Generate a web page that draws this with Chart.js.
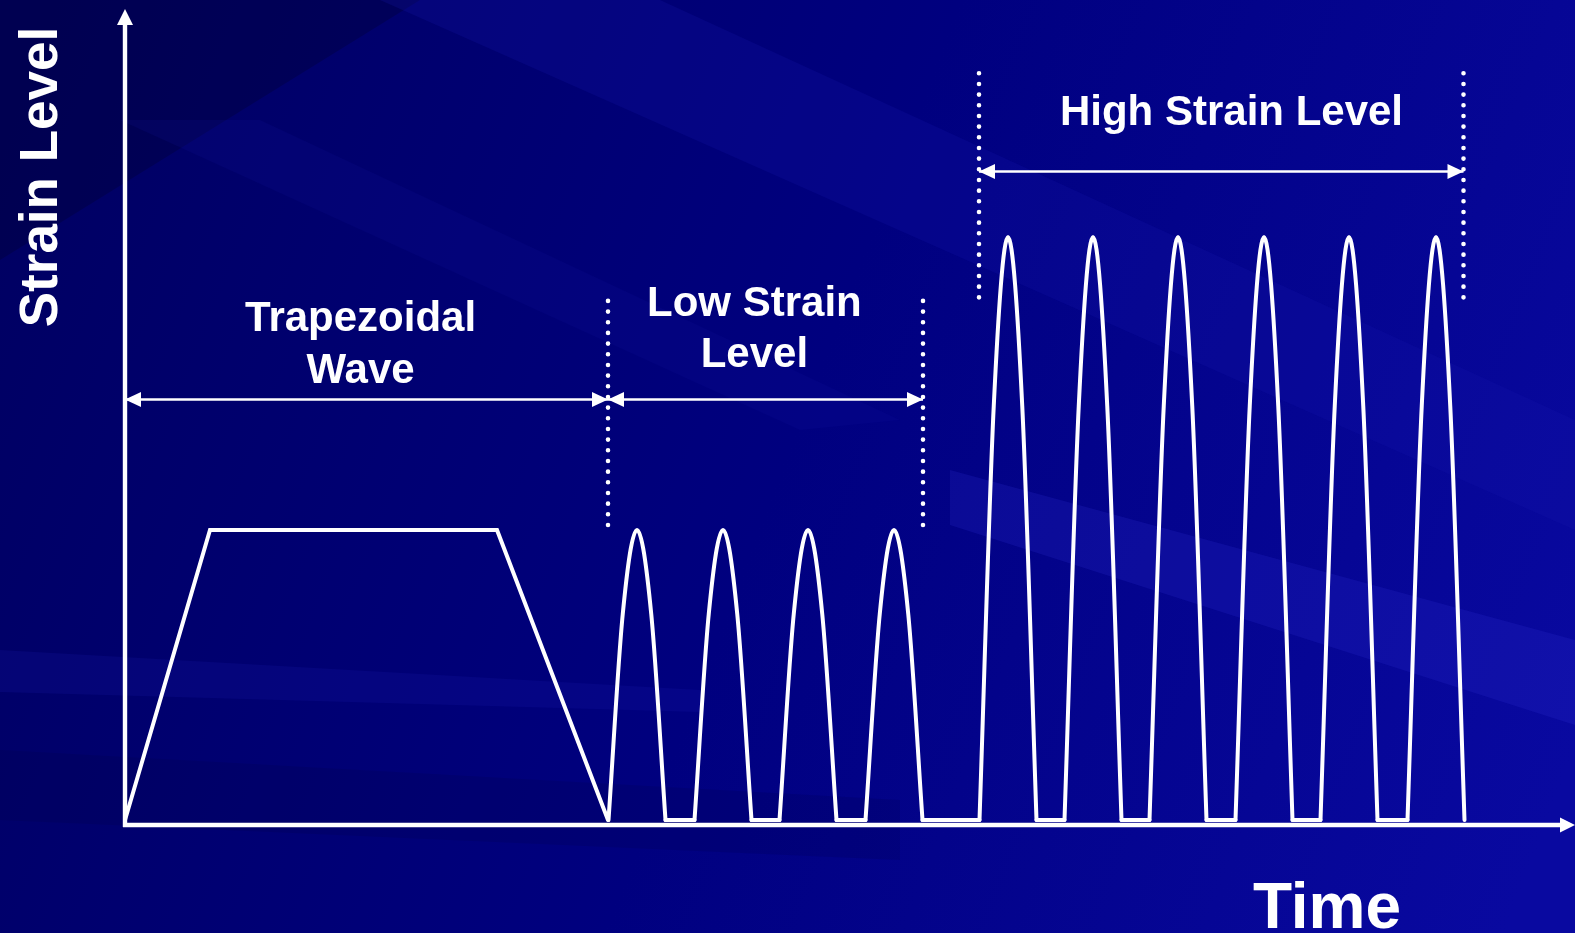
<!DOCTYPE html>
<html>
<head>
<meta charset="utf-8">
<title>Strain Level vs Time</title>
<script src="https://cdn.jsdelivr.net/npm/chart.js@4.4.1/dist/chart.umd.min.js"></script>
<style>
    html, body { margin: 0; padding: 0; background: #000078; }
    #wrap { width: 1575px; height: 933px; position: relative; }
</style>
</head>
<body>
<div id="wrap"><canvas id="waveChart"></canvas></div>
<script>
// time axis runs 0..145, strain in units of the low level
const trapTime = [0, 8.5, 37.2, 48.3];
const trapStrain = [0, 1, 1, 0];

const lowPeakTime = [51.2, 59.8, 68.3, 76.9];
const lowPeakStrain = [1, 1, 1, 1];
const highPeakTime = [88.3, 96.8, 105.3, 113.9, 122.4, 131.1];
const highPeakStrain = [2.01, 2.01, 2.01, 2.01, 2.01, 2.01];
const pulseHalfWidth = 2.85;

// one pulse: offset in half widths, level as share of peak
const pulseOffset = [-1, -0.5, 0, 0.5, 1];
const pulseLevel = [0, 0.71, 1, 0.71, 0];

// dotted guides and double arrows
const guideTime = [48.3, 79.8, 85.4, 133.85];
const guideTop = [1.79, 1.79, 2.575, 2.575];
const guideBottom = [1.017, 1.017, 1.802, 1.802];

const spanFrom = [0, 48.3, 85.4];
const spanTo = [48.3, 79.8, 133.85];
const spanLevel = [1.45, 1.45, 2.236];

const spanLabels = [
    { lines: ['Trapezoidal', 'Wave'], t: 23.56, y: [1.686, 1.507] },
    { lines: ['Low Strain', 'Level'], t: 62.94, y: [1.738, 1.562] },
    { lines: ['High Strain Level'], t: 110.65, y: [2.398] }
];

const FONT = '"Liberation Sans", Arial, Helvetica, sans-serif';
const WHITE = '#ffffff';

// build the pulse series
const pulses = [];
lowPeakTime.forEach((t, i) => pulses.push({ t: t, a: lowPeakStrain[i] }));
highPeakTime.forEach((t, i) => pulses.push({ t: t, a: highPeakStrain[i] }));

const pulsePoints = [];
pulses.forEach(p => {
    pulseOffset.forEach((o, k) => {
        pulsePoints.push({ x: p.t + o * pulseHalfWidth, y: p.a * pulseLevel[k] });
    });
    pulsePoints.push({ x: p.t + pulseHalfWidth, y: null });
});

// flat rest between pulses
const restPoints = [];
for (let i = 0; i < pulses.length - 1; i++) {
    const a = pulses[i].t + pulseHalfWidth;
    const b = pulses[i + 1].t - pulseHalfWidth;
    restPoints.push({ x: a, y: 0 }, { x: b, y: 0 }, { x: b, y: null });
}

const datasets = [];
datasets.push({
    label: 'Trapezoidal',
    data: trapTime.map((t, i) => ({ x: t, y: trapStrain[i] })),
    borderColor: WHITE,
    borderWidth: 4,
    borderJoinStyle: 'miter',
    borderCapStyle: 'round',
    pointRadius: 0,
    tension: 0
});
datasets.push({
    label: 'Pulses',
    data: pulsePoints,
    borderColor: WHITE,
    borderWidth: 4,
    borderCapStyle: 'round',
    pointRadius: 0,
    cubicInterpolationMode: 'monotone',
    spanGaps: false
});
datasets.push({
    label: 'Rest',
    data: restPoints,
    borderColor: WHITE,
    borderWidth: 4,
    borderCapStyle: 'round',
    pointRadius: 0,
    tension: 0,
    spanGaps: false
});
guideTime.forEach((t, i) => {
    datasets.push({
        label: 'guide' + i,
        data: [{ x: t, y: guideTop[i] }, { x: t, y: guideBottom[i] }],
        borderColor: WHITE,
        borderWidth: 4.6,
        borderDash: [0, 10.67],
        borderCapStyle: 'round',
        pointRadius: 0,
        tension: 0
    });
});
spanFrom.forEach((t, i) => {
    datasets.push({
        label: 'span' + i,
        data: [{ x: t, y: spanLevel[i] }, { x: spanTo[i], y: spanLevel[i] }],
        borderColor: WHITE,
        borderWidth: 2.6,
        pointRadius: 0,
        tension: 0
    });
});

function poly(ctx, pts, color) {
    ctx.beginPath();
    ctx.moveTo(pts[0][0], pts[0][1]);
    for (let i = 1; i < pts.length; i++) ctx.lineTo(pts[i][0], pts[i][1]);
    ctx.closePath();
    ctx.fillStyle = color;
    ctx.fill();
}

const backdrop = {
    id: 'backdrop',
    beforeDraw(chart) {
        const ctx = chart.ctx;
        const w = chart.width, h = chart.height;
        ctx.save();
        const g = ctx.createLinearGradient(0, 150, w, 750);
        g.addColorStop(0, '#000062');
        g.addColorStop(0.5, '#00007f');
        g.addColorStop(1, '#0909a0');
        ctx.fillStyle = g;
        ctx.fillRect(0, 0, w, h);
        poly(ctx, [[0, 0], [420, 0], [0, 260]], 'rgba(0,0,40,0.28)');
        poly(ctx, [[380, 0], [660, 0], [1575, 420], [1575, 530]], 'rgba(25,25,175,0.22)');
        poly(ctx, [[120, 120], [260, 120], [900, 420], [800, 430]], 'rgba(20,20,160,0.15)');
        poly(ctx, [[950, 470], [1575, 640], [1575, 725], [950, 525]], 'rgba(45,45,210,0.22)');
        poly(ctx, [[0, 650], [700, 690], [700, 712], [0, 692]], 'rgba(30,30,180,0.18)');
        poly(ctx, [[0, 750], [900, 800], [900, 860], [0, 820]], 'rgba(0,0,60,0.15)');
        ctx.restore();
    }
};

function arrowHead(ctx, x, y, dir, len, half) {
    // dir: 1 points right, -1 points left
    ctx.beginPath();
    ctx.moveTo(x, y);
    ctx.lineTo(x - dir * len, y - half);
    ctx.lineTo(x - dir * len, y + half);
    ctx.closePath();
    ctx.fill();
}

const decor = {
    id: 'decor',
    afterDatasetsDraw(chart) {
        const ctx = chart.ctx;
        const area = chart.chartArea;
        const xs = chart.scales.x, ys = chart.scales.y;
        ctx.save();
        ctx.fillStyle = WHITE;
        ctx.strokeStyle = WHITE;

        // axes with arrows
        ctx.lineWidth = 4.4;
        ctx.beginPath();
        ctx.moveTo(area.left, area.bottom + 2);
        ctx.lineTo(area.left, area.top + 14);
        ctx.moveTo(area.left - 2, area.bottom);
        ctx.lineTo(area.right - 14, area.bottom);
        ctx.stroke();
        ctx.beginPath();
        ctx.moveTo(area.left, area.top);
        ctx.lineTo(area.left - 8, area.top + 16);
        ctx.lineTo(area.left + 8, area.top + 16);
        ctx.closePath();
        ctx.fill();
        arrowHead(ctx, area.right, area.bottom, 1, 15, 7.5);

        // span arrow heads
        spanFrom.forEach((t, i) => {
            const y = ys.getPixelForValue(spanLevel[i]);
            arrowHead(ctx, xs.getPixelForValue(t), y, -1, 16, 7.5);
            arrowHead(ctx, xs.getPixelForValue(spanTo[i]), y, 1, 16, 7.5);
        });

        // span labels
        ctx.font = 'bold 42px ' + FONT;
        ctx.textAlign = 'center';
        ctx.textBaseline = 'alphabetic';
        spanLabels.forEach(l => {
            l.lines.forEach((s, k) => {
                ctx.fillText(s, xs.getPixelForValue(l.t), ys.getPixelForValue(l.y[k]));
            });
        });

        // axis titles
        ctx.font = 'bold 64px ' + FONT;
        ctx.fillText('Time', 1327, 928);
        ctx.save();
        ctx.translate(57, 177);
        ctx.rotate(-Math.PI / 2);
        ctx.font = 'bold 53px ' + FONT;
        ctx.fillText('Strain Level', 0, 0);
        ctx.restore();

        ctx.restore();
    }
};

new Chart(document.getElementById('waveChart'), {
    type: 'line',
    data: { datasets: datasets },
    options: {
        responsive: true,
        maintainAspectRatio: false,
        animation: false,
        events: [],
        layout: { padding: { left: 125, right: 0, top: 9, bottom: 108 } },
        scales: {
            x: { type: 'linear', min: 0, max: 145, display: false },
            y: { type: 'linear', min: -0.01724, max: 2.7966, display: false }
        },
        plugins: {
            legend: { display: false },
            tooltip: { enabled: false }
        }
    },
    plugins: [backdrop, decor]
});
</script>
</body>
</html>
